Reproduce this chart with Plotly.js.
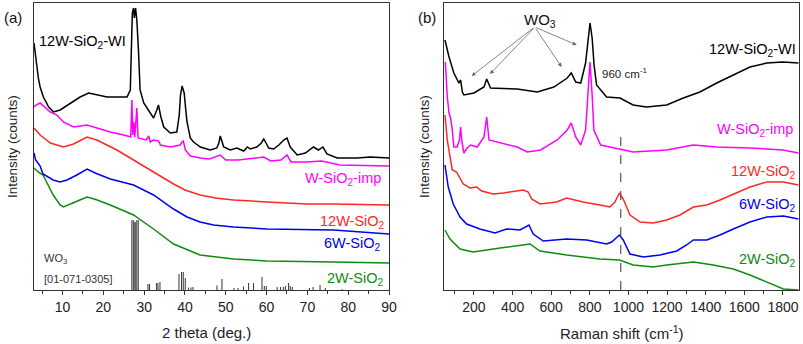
<!DOCTYPE html>
<html><head><meta charset="utf-8">
<script src="https://cdn.plot.ly/plotly-3.0.1.min.js"></script>
<style>html,body{margin:0;padding:0;background:#fff}#chart{width:803px;height:344px}</style>
</head><body><div id="chart"></div>
<script>
// ---------- (a) XRD data: 2 theta (deg.) and offset intensity (a.u.) ----------
const xrdWI_theta = [3.0,3.4,3.7,4.1,4.5,5.3,6.6,7.8,9.4,11.9,14.3,16.4,18.4,20.9,23.3,25.8,26.6,26.9,27.1,27.4,27.6,27.9,28.2,28.6,29.0,29.9,31.1,32.3,33.1,33.5,34.1,34.8,36.4,38.0,38.6,38.9,39.3,39.8,40.2,40.5,41.3,42.1,43.75,46.2,47.8,48.3,48.65,49.0,49.5,51.1,52.7,54.4,55.3,56.0,57.6,58.7,59.3,60.0,60.5,61.7,63.0,64.2,65.0,65.8,67.5,69.5,71.5,72.7,73.8,74.8,77.3,82.2,85.4,90];
const xrdWI_int   = [247,232,223,211,203,193,183,178,180,187,193,197,195,193,193,193,200,250,277,282,272,282,270,240,200,187,180,172,180,185,173,163,157,158,175,195,204,197,180,168,152,148,143,140,142,147,154,149,143,140,142,139,143,141,143,147,151,146,142,141,145,150,152,143,135,137,143,140,143,136,132,132,133,132];

const xrdImp_theta = [3.0,3.5,4.5,5.5,7.0,8.6,10.2,12.7,16.0,18.4,21.7,25.0,26.3,26.7,27.0,27.2,27.45,27.7,28.2,28.5,30.5,31.1,31.5,32.3,33.5,34.0,36.4,38.8,39.3,39.6,40.1,41.3,43.75,46.0,48.65,50.0,53.0,55.5,59.3,61.0,63.5,65.0,66.0,70.0,73.5,78.0,90];
const xrdImp_int   = [183,185,187,183,178,175,168,163,165,162,158,155,153,153,190,155,168,153,182,152,150,154,148,150,149,145,143,145,148,149,140,134,132,131,135,130,130,131,133,129,130,135,128,128,129,125,124];

const xrd12_theta = [3.0,4.5,7.0,10.2,12.7,16.0,18.4,21.7,23.3,27.4,32.3,34.5,37.2,40.0,43.7,47.5,51.9,60.1,70.0,76.4,90];
const xrd12_int   = [162,155,147,143,146,153,150,143,140,130,118,112,106,100,95,92,90,88,86,86,85];

const xrd6_theta = [3.0,3.4,3.8,4.5,5.2,7.7,9.4,11.1,13.5,16.0,18.0,21.7,27.4,32.3,37.2,40.5,43.7,47.0,51.9,60.1,76.4,90];
const xrd6_int   = [137,130,128,124,116,110,108,110,115,121,117,111,105,95,81,73,68,65,63,61,60,56];

const xrd2_theta = [3.0,4.0,5.2,6.5,7.7,9.4,10.2,12.5,16.0,18.5,21.7,27.4,32.3,37.2,40.5,43.7,51.9,60.1,76.4,90];
const xrd2_int   = [122,118,115,105,95,85,83,87,93,90,85,75,61,46,40,35,31,29,28,27];

// WO3 reference pattern [01-071-0305]
const refTheta  = [27.16,27.75,28.38,30.93,31.32,33.04,33.38,33.87,38.53,39.17,39.58,40.07,40.88,41.47,41.96,47.84,49.07,52.0,53.0,54.36,55.59,56.81,58.87,59.44,59.93,62.6,63.4,64.1,64.6,65.39,65.8,66.3,70.5,71.4,73.1,74.4,78.5];
const refHeight = [70,68,70,6,6,7,7,8,16,18,18,12,2.5,2.5,3,4.5,11,2,2,3.5,7,7,13,4,4,3,3,3,4,7,4,3,2,3,5,2,1];

// ---------- (b) Raman data: Raman shift (cm-1) and offset intensity ----------
const ramWI_shift = [50,71,96,122,131,140,148,200,252,266,286,424,528,614,683,704,727,753,778,790,801,812,822,835,887,956,975,1024,1094,1198,1284,1370,1457,1543,1629,1716,1800,1880];
const ramWI_int   = [250,233,217,207,210,198,195,197,203,211,202,201,198,203,212,217,208,207,227,252,267,252,225,205,193,192,190,185,183,185,192,198,207,215,223,227,228,227];

const ramImp_shift = [52,58,62,71,79,88,96,113,125,131,138,148,165,183,217,252,266,278,338,424,476,545,631,683,704,727,753,778,790,801,812,821,856,925,1024,1198,1336,1457,1629,1800,1880];
const ramImp_int   = [228,200,193,177,172,160,143,143,150,163,148,137,142,145,143,153,173,150,147,143,138,140,150,160,167,153,145,160,195,228,195,160,145,142,138,140,145,143,142,140,137];

const ram12_shift = [50,62,79,88,110,145,179,214,240,300,352,455,481,499,542,628,680,765,852,904,930,953,973,1008,1060,1128,1198,1267,1336,1405,1474,1543,1629,1716,1802,1880];
const ram12_int   = [175,150,130,120,118,106,102,103,99,96,97,100,98,91,86,88,92,88,85,83,88,97,91,75,68,67,70,75,83,85,90,96,103,108,108,105];

const ram6_shift = [50,67,93,128,162,231,309,369,438,485,507,559,680,784,887,913,953,973,1008,1077,1163,1250,1301,1336,1405,1474,1543,1629,1716,1802,1880];
const ram6_int   = [125,103,86,73,66,61,57,61,60,65,56,49,51,50,46,48,55,50,36,33,35,39,45,50,50,55,61,68,73,74,71];

const ram2_shift = [50,76,128,196,335,473,490,542,680,852,953,1025,1128,1198,1336,1439,1543,1629,1716,1802,1880];
const ram2_int   = [60,51,41,38,42,45,46,39,35,31,30,25,23,25,28,25,21,15,8,1,0];

const xTicksA = [10,20,30,40,50,60,70,80,90];
const xTicksB = [200,400,600,800,1000,1200,1400,1600,1800];

// ---------- styles ----------
const C = {black:'#000000', mag:'#ff00ff', red:'#ff2626', blue:'#0000f0', green:'#128a12'};
const FONT = 'Arial, "Liberation Sans", sans-serif';

function line(x, y, color, xa, ya){
  return {type:'scatter', mode:'lines', x:x, y:y, xaxis:xa, yaxis:ya,
          line:{color:color, width:1.5}, hoverinfo:'skip', showlegend:false};
}
// stick pattern as vertical segments built from the reference arrays
function sticks(filter){
  const xs = [], ys = [];
  refTheta.forEach((t, i) => {
    if (!filter(refHeight[i])) return;
    xs.push(t, t, null); ys.push(0, refHeight[i], null);
  });
  return {xs, ys};
}
const tall = sticks(h => h > 30), small = sticks(h => h <= 30);

const traces = [
  line(xrd2_theta, xrd2_int, C.green, 'x', 'y'),
  line(xrd6_theta, xrd6_int, C.blue, 'x', 'y'),
  line(xrd12_theta, xrd12_int, C.red, 'x', 'y'),
  line(xrdImp_theta, xrdImp_int, C.mag, 'x', 'y'),
  line(xrdWI_theta, xrdWI_int, C.black, 'x', 'y'),
  {type:'scatter', mode:'lines', x:tall.xs, y:tall.ys, xaxis:'x', yaxis:'y', connectgaps:false,
   line:{color:'#333', width:2.4}, hoverinfo:'skip', showlegend:false},
  {type:'scatter', mode:'lines', x:tall.xs, y:tall.ys, xaxis:'x', yaxis:'y', connectgaps:false,
   line:{color:'#b0b0b0', width:0.9}, hoverinfo:'skip', showlegend:false},
  {type:'scatter', mode:'lines', x:small.xs, y:small.ys, xaxis:'x', yaxis:'y', connectgaps:false,
   line:{color:'#333', width:1}, hoverinfo:'skip', showlegend:false},
  line(ram2_shift, ram2_int, C.green, 'x2', 'y2'),
  line(ram6_shift, ram6_int, C.blue, 'x2', 'y2'),
  line(ram12_shift, ram12_int, C.red, 'x2', 'y2'),
  line(ramImp_shift, ramImp_int, C.mag, 'x2', 'y2'),
  line(ramWI_shift, ramWI_int, C.black, 'x2', 'y2')
];

const W = 803;
const axBase = {showline:true, mirror:true, linecolor:'#333', linewidth:1, showgrid:false, zeroline:false,
                tickfont:{family:FONT, size:14, color:'#222'}};
const xaBase = Object.assign({}, axBase, {ticks:'outside', ticklen:4, tickcolor:'#333', tickwidth:1});
const yaBase = Object.assign({}, axBase, {showticklabels:false, ticks:'', range:[0,287], domain:[0,1]});

function lab(text, x, y, xa, ya, color, size, xanchor){
  return {text:text, x:x, y:y, xref:xa, yref:ya, showarrow:false, xanchor:xanchor||'right', yanchor:'middle',
          font:{family:FONT, size:size||14, color:color}};
}
function arrow(x, y, ax, ay){
  return {text:'', x:x, y:y, xref:'x2', yref:'y2', ax:ax, ay:ay, axref:'pixel', ayref:'pixel',
          showarrow:true, arrowhead:2, arrowsize:1, arrowwidth:0.8, arrowcolor:'#666', standoff:0};
}

const layout = {
  width:803, height:344, margin:{l:0, r:0, t:3, b:54}, paper_bgcolor:'#fff', plot_bgcolor:'#fff',
  font:{family:FONT},
  xaxis:Object.assign({}, xaBase, {domain:[34/W, 389/W], range:[3,90], tickvals:xTicksA,
        minor:{ticks:'outside', ticklen:2.5, tickcolor:'#333', dtick:5, tick0:5}, anchor:'y'}),
  yaxis:Object.assign({}, yaBase, {anchor:'x'}),
  xaxis2:Object.assign({}, xaBase, {domain:[444/W, 799/W], range:[45,1883], tickvals:xTicksB,
        minor:{ticks:'outside', ticklen:2.5, tickcolor:'#333', dtick:100, tick0:100}, anchor:'y2'}),
  yaxis2:Object.assign({}, yaBase, {anchor:'x2'}),
  shapes:[{type:'line', xref:'x2', yref:'y2', x0:960, x1:960, y0:0, y1:161,
           line:{color:'#555', width:1.2, dash:'dash'}}],
  annotations:[
    // panel a
    {text:'(a)', x:13/W, y:1-14/287, xref:'paper', yref:'paper', showarrow:false, xanchor:'center', yanchor:'middle',
     font:{family:FONT, size:15, color:'#111'}},
    lab('12W-SiO<sub>2</sub>-WI', 3.8, 248, 'x', 'y', '#000', 14.5, 'left'),
    lab('W-SiO<sub>2</sub>-imp', 88.5, 111, 'x', 'y', C.mag, 14.5),
    lab('12W-SiO<sub>2</sub>', 89.5, 68, 'x', 'y', C.red, 14.5),
    lab('6W-SiO<sub>2</sub>', 88.5, 46, 'x', 'y', C.blue, 14.5),
    lab('2W-SiO<sub>2</sub>', 89.3, 11, 'x', 'y', C.green, 14.5),
    lab('WO<sub>3</sub>', 4.9, 31, 'x', 'y', '#333', 11, 'left'),
    lab('[01-071-0305]', 4.9, 11, 'x', 'y', '#333', 11, 'left'),
    {text:'2 theta (deg.)', x:206/W, y:-42/287, xref:'paper', yref:'paper', showarrow:false,
     xanchor:'center', yanchor:'middle', font:{family:FONT, size:15, color:'#222'}},
    {text:'Intensity (counts)', x:12/W, y:(290-147)/287, xref:'paper', yref:'paper', showarrow:false, textangle:-90,
     xanchor:'center', yanchor:'middle', font:{family:FONT, size:13.5, color:'#222'}},
    // panel b
    {text:'(b)', x:427/W, y:1-14/287, xref:'paper', yref:'paper', showarrow:false, xanchor:'center', yanchor:'middle',
     font:{family:FONT, size:15, color:'#111'}},
    lab('WO<sub>3</sub>', 543, 270, 'x2', 'y2', '#111', 15, 'center'),
    arrow(188, 214, 63, -49),
    arrow(283, 216, 45, -47),
    arrow(654, 223, -27, -40),
    arrow(732, 245, -42, -18),
    lab('960 cm<sup>-1</sup>', 855, 217, 'x2', 'y2', '#222', 11.5, 'left'),
    lab('12W-SiO<sub>2</sub>-WI', 1880, 240, 'x2', 'y2', '#000', 14.5),
    lab('W-SiO<sub>2</sub>-imp', 1860, 160, 'x2', 'y2', C.mag, 14.5),
    lab('12W-SiO<sub>2</sub>', 1880, 118, 'x2', 'y2', C.red, 14.5),
    lab('6W-SiO<sub>2</sub>', 1880, 85, 'x2', 'y2', C.blue, 14.5),
    lab('2W-SiO<sub>2</sub>', 1880, 30, 'x2', 'y2', C.green, 14.5),
    {text:'Raman shift (cm<sup>-1</sup>)', x:622/W, y:-43/287, xref:'paper', yref:'paper', showarrow:false,
     xanchor:'center', yanchor:'middle', font:{family:FONT, size:15, color:'#222'}},
    {text:'Intensity (counts)', x:424/W, y:(290-147)/287, xref:'paper', yref:'paper', showarrow:false, textangle:-90,
     xanchor:'center', yanchor:'middle', font:{family:FONT, size:13.5, color:'#222'}}
  ]
};

Plotly.newPlot('chart', traces, layout, {staticPlot:true, displayModeBar:false});
</script></body></html>
